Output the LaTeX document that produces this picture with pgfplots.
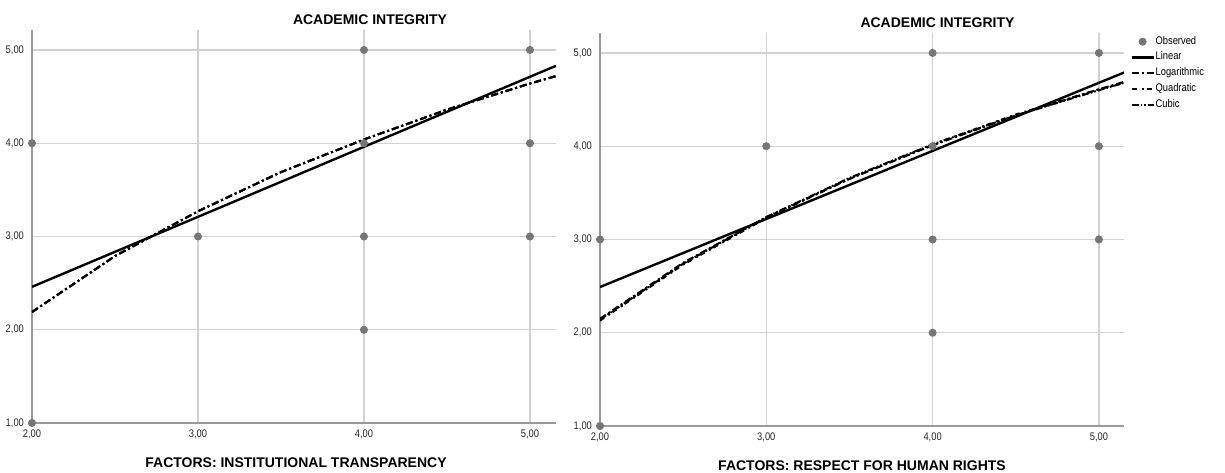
\documentclass[border=0pt]{standalone}
\usepackage{fontspec}
\setmainfont{Liberation Sans}
\newfontfamily\narrowfont{Liberation Sans}[FakeStretch=0.85]
\usepackage{pgfplots}
\pgfplotsset{compat=1.18}

\definecolor{obsgray}{HTML}{767676}
\definecolor{gridgray}{HTML}{D2D2D2}
\definecolor{axisgray}{HTML}{9A9A9A}

\pgfplotsset{
  fitpanel/.style={
    scale only axis, width=262pt, height=196.5pt,
    xmin=2, ymin=1,
    axis x line*=bottom, axis y line*=left,
    axis line style={draw=axisgray, line width=1pt, -},
    xtick={2,3,4,5}, ytick={1,2,3,4,5},
    xticklabels={{2,00},{3,00},{4,00},{5,00}},
    yticklabels={{1,00},{2,00},{3,00},{4,00},{5,00}},
    xtick style={draw=none}, ytick style={draw=none},
    grid=major, major grid style={draw=gridgray, line width=0.7pt},
    ticklabel style={font=\narrowfont\fontsize{5.5}{6}\selectfont, text=black!85},
    yticklabel style={anchor=east, xshift=-0.5pt},
    xticklabel style={anchor=north, yshift=0pt},
    legend image code/.code={\draw[#1] (0pt,0pt) -- (11pt,0pt);},
  },
  obs/.style={only marks, mark=*, mark size=1.8pt, obsgray,
    mark options={draw=none, fill=obsgray},
    legend image code/.code={\draw[mark repeat=2, mark phase=2, #1] plot coordinates {(0pt,0pt)(5.5pt,0pt)(11pt,0pt)};}},
  linfit/.style={black, line width=1.2pt},
  logfit/.style={black, line width=1pt, dash pattern=on 3.5pt off 1.5pt on 1pt off 1.5pt},
  quadfit/.style={black, line width=1pt, dash pattern=on 2.5pt off 2.5pt on 1pt off 1.5pt},
  cubfit/.style={black, line width=1pt, dash pattern=on 3.5pt off 1pt on 0.8pt off 1pt on 0.8pt off 1pt},
}

% observed values
\pgfplotstableread{
x y
2 1
2 4
3 3
4 2
4 3
4 4
4 5
5 3
5 4
5 5
}\obsleft
\pgfplotstableread{
x y
2 1
2 3
3 4
4 2
4 3
4 4
4 5
5 3
5 4
5 5
}\obsright

\begin{document}
\begin{tikzpicture}
\useasboundingbox (0pt,0pt) rectangle (612.5pt,-236pt);

% left panel (the three non-linear fits coincide here)
\begin{axis}[fitpanel, at={(16pt,-211.5pt)}, anchor=south west,
  xmax=5.157, ymax=5.214]
  \addplot[obs] table {\obsleft};
  \addplot[linfit] coordinates {(2,2.46) (5.157,4.83)};
  \addplot[logfit] coordinates {(2,2.19) (2.5,2.79) (3,3.27) (3.5,3.69) (4,4.04) (4.5,4.36) (5,4.64) (5.157,4.72)};
  \addplot[logfit] coordinates {(2,2.19) (2.5,2.79) (3,3.27) (3.5,3.69) (4,4.04) (4.5,4.36) (5,4.64) (5.157,4.72)};
  \addplot[logfit] coordinates {(2,2.19) (2.5,2.79) (3,3.27) (3.5,3.69) (4,4.04) (4.5,4.36) (5,4.64) (5.157,4.72)};
\end{axis}

% right panel
\begin{axis}[fitpanel, at={(300pt,-213pt)}, anchor=south west,
  xmax=5.151, ymax=5.214,
  legend style={draw=none, fill=none, at={(rel axis cs:1,1)}, anchor=north west,
    xshift=3pt, yshift=-1pt, inner sep=0pt,
    font=\narrowfont\fontsize{5.5}{6}\selectfont,
    row sep=1.6pt, nodes={inner sep=0.4pt}},
  legend cell align=left]
  \addplot[obs] table {\obsright};
  \addplot[linfit] coordinates {(2,2.49) (5.151,4.79)};
  \addplot[logfit] coordinates {(2,2.15) (2.5,2.75) (3,3.24) (3.5,3.65) (4,4.01) (4.5,4.33) (5,4.61) (5.151,4.69)};
  \addplot[quadfit] coordinates {(2,2.13) (2.5,2.73) (3,3.23) (3.5,3.65) (4,4.02) (4.5,4.34) (5,4.61) (5.151,4.68)};
  \addplot[cubfit] coordinates {(2,2.14) (2.5,2.74) (3,3.24) (3.5,3.66) (4,4.02) (4.5,4.33) (5,4.60) (5.151,4.68)};
  \legend{Observed,Linear,Logarithmic,Quadratic,Cubic}
\end{axis}

% titles and axis labels
\node[font=\fontsize{7}{8}\selectfont\bfseries] at (185pt,-9.75pt) {ACADEMIC INTEGRITY};
\node[font=\fontsize{7}{8}\selectfont\bfseries] at (468.75pt,-11.5pt) {ACADEMIC INTEGRITY};
\node[font=\fontsize{7}{8}\selectfont\bfseries] at (148pt,-231.5pt) {FACTORS: INSTITUTIONAL TRANSPARENCY};
\node[font=\fontsize{7}{8}\selectfont\bfseries] at (431pt,-233pt) {FACTORS: RESPECT FOR HUMAN RIGHTS};
\end{tikzpicture}
\end{document}
